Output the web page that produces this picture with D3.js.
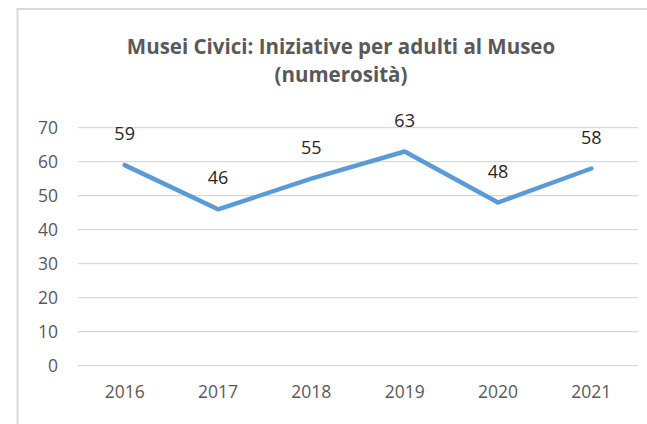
<!DOCTYPE html>
<html><head><meta charset="utf-8">
<script src="https://cdn.jsdelivr.net/npm/d3@7"></script>
<style>html,body{margin:0;padding:0;background:#fff;}svg{display:block;}</style>
</head><body>
<svg id="c" width="647" height="424"></svg>
<script>
const years = ["2016","2017","2018","2019","2020","2021"];
const values = [59, 46, 55, 63, 48, 58];
const yTicks = [0,10,20,30,40,50,60,70];
const titleLines = ["Musei Civici: Iniziative per adulti al Museo", "(numerosità)"];

(function(){
const svg = d3.select("#c");
const font = "'Open Sans', 'Liberation Sans', sans-serif";

// chart frame
svg.append("rect").attr("x",17.5).attr("y",9).attr("width",660).attr("height",440)
  .attr("fill","#fff").attr("stroke","#d9d9d9").attr("stroke-width",2);

const pLeft = 78, pRight = 638, pTop = 127.7, pBottom = 365.7;
const x = d3.scaleBand().domain(years).range([pLeft,pRight]);
const y = d3.scaleLinear().domain([0,70]).range([pBottom,pTop]);

// gridlines
svg.append("g").selectAll("line").data(yTicks).join("line")
  .attr("x1",pLeft).attr("x2",pRight)
  .attr("y1",d=>y(d)).attr("y2",d=>y(d))
  .attr("stroke","#d9d9d9").attr("stroke-width",1.3);

// y axis labels
const yAxis = d3.axisLeft(y).tickValues(yTicks).tickSize(0).tickPadding(0);
const gy = svg.append("g").attr("transform",`translate(58,0)`).call(yAxis);
gy.select(".domain").remove();
gy.selectAll("text").attr("font-family",font).attr("font-size",17.5).attr("fill","#595959");

// x axis labels
const xAxis = d3.axisBottom(x).tickSize(0).tickPadding(0);
const gx = svg.append("g").attr("transform",`translate(0,386)`).call(xAxis);
gx.select(".domain").remove();
gx.selectAll("text").attr("font-family",font).attr("font-size",17.5).attr("fill","#595959");

// line
const line = d3.line().x((d,i)=>x(years[i])+x.bandwidth()/2).y(d=>y(d));
svg.append("path").datum(values).attr("d",line)
  .attr("fill","none").attr("stroke","#5B9BD5").attr("stroke-width",4.5)
  .attr("stroke-linejoin","round").attr("stroke-linecap","round");

// data labels
svg.append("g").selectAll("text").data(values).join("text")
  .attr("x",(d,i)=>x(years[i])+x.bandwidth()/2)
  .attr("y",d=>y(d)-25)
  .attr("text-anchor","middle")
  .attr("font-family",font).attr("font-size",18).attr("fill","#262626")
  .text(d=>d);

// title
svg.append("g").selectAll("text").data(titleLines).join("text")
  .attr("x",341).attr("y",(d,i)=>54+i*28)
  .attr("text-anchor","middle")
  .attr("font-family",font).attr("font-size",20.5).attr("font-weight","bold").attr("fill","#595959")
  .text(d=>d);
})();
</script>
</body></html>
